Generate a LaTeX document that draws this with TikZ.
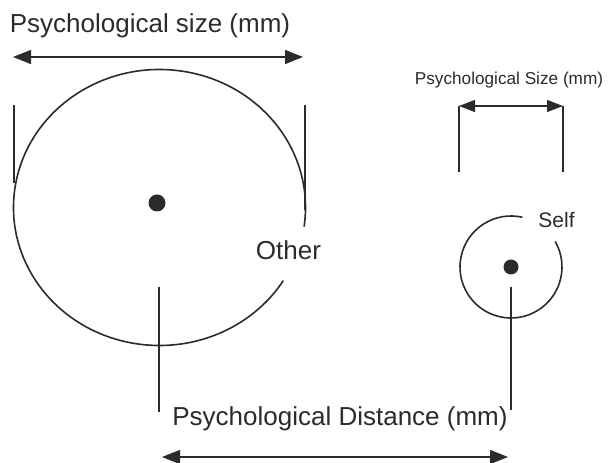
\documentclass[tikz,border=0pt]{standalone}
\usepackage{fontspec}
\setmainfont{Liberation Sans}
\usetikzlibrary{arrows.meta}
\definecolor{cInk}{HTML}{2B2B2B}
\tikzset{
  dot/.style={circle, fill=cInk, draw=none, inner sep=0pt},
  lbl/.style={anchor=base, inner sep=0pt, text=cInk},
  rim/.style={line width=1.6pt}
}

\begin{document}
\begin{tikzpicture}[x=1pt, y=1pt, font=\fontsize{26}{30}\selectfont, >={Triangle[length=18pt,width=14pt]}, line width=1.2pt, draw=cInk]
\useasboundingbox (0,0) rectangle (608,463);
% Other: big circle
\coordinate (oC) at (159.5,255.5);
\draw[rim] ([shift={(-8:146 and 138)}]oC) arc[start angle=-8, end angle=328, x radius=146, y radius=138];
\node[dot, minimum size=17pt] (otherDot) at (157,260) {};
\node[lbl] (otherLbl) at (288.5,203) {Other};
\coordinate (oL1) at (14,358);  \coordinate (oL2) at (14,280);
\coordinate (oR1) at (305,358); \coordinate (oR2) at (305,253);
\coordinate (oA1) at (13,406);  \coordinate (oA2) at (303,406);
\draw (oL1) -- (oL2);
\draw (oR1) -- (oR2);
\draw[<->] (oA1) -- (oA2);
\node[lbl] (otherSize) at (150,430) {Psychological size (mm)};
% Self: small circle
\coordinate (sC) at (511,196);
\draw[rim] ([shift={(77:51)}]sC) arc[start angle=77, end angle=390, radius=51];
\node[dot, minimum size=15pt] (selfDot) at (sC) {};
\node[lbl, font=\fontsize{21}{24}\selectfont] (selfLbl) at (556.5,235) {Self};
\coordinate (sL1) at (459,357); \coordinate (sL2) at (459,291);
\coordinate (sR1) at (563,357); \coordinate (sR2) at (563,291);
\draw (sL1) -- (sL2);
\draw (sR1) -- (sR2);
\draw[<->, >={Triangle[length=16pt,width=12pt]}] (sL1) -- (sR1);
\node[lbl, font=\fontsize{17.2}{20}\selectfont] (selfSize) at (509,378) {Psychological Size (mm)};
% distance between the two
\coordinate (dL1) at (159,176); \coordinate (dL2) at (159,51);
\coordinate (dR1) at (511,176); \coordinate (dR2) at (511,53);
\coordinate (dA1) at (162,6);   \coordinate (dA2) at (508,6);
\draw (dL1) -- (dL2);
\draw (dR1) -- (dR2);
\draw[<->] (dA1) -- (dA2);
\node[lbl] (distLbl) at (340,37) {Psychological Distance (mm)};
\end{tikzpicture}
\end{document}
